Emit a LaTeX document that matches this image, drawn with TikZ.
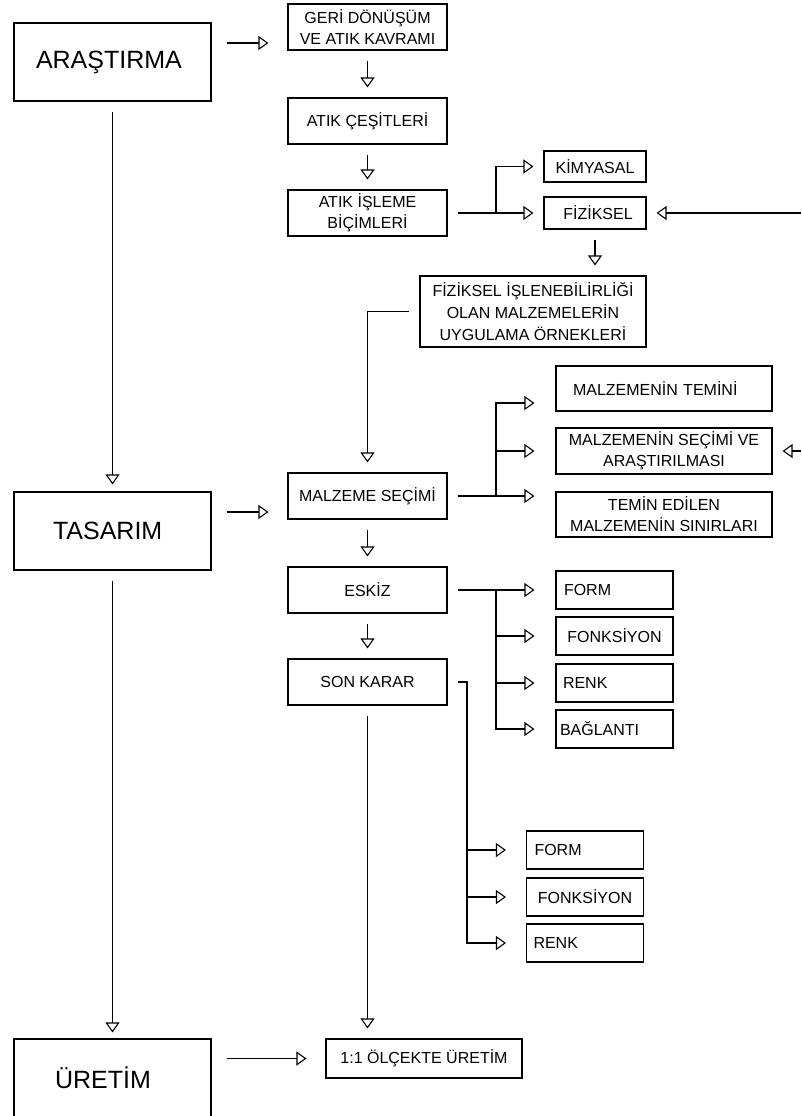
\documentclass[tikz,border=0pt]{standalone}
\usepackage{fontspec}
\setmainfont{Liberation Sans}
\usetikzlibrary{arrows.meta}

\begin{document}
\begin{tikzpicture}[x=1pt, y=-1pt,
        kutu/.style={draw, line width=1.1pt, inner sep=0pt, align=center, font=\fontsize{16}{21}\selectfont},
        ana/.style={kutu, minimum width=197pt, minimum height=78pt, align=left, font=\fontsize{25}{30}\selectfont},
        orta/.style={kutu, minimum width=159pt, minimum height=46pt},
        sag/.style={kutu, minimum width=216pt, minimum height=46pt},
        kucuk/.style={kutu, minimum width=117pt, minimum height=38pt},
        ok/.style={line width=1.1pt, -{Triangle[open, length=10pt, width=14pt]}, shorten >=10pt},
        yan/.style={ok, shorten <=15pt, shorten >=19pt},
        uzun/.style={ok, shorten >=21pt}]

        \useasboundingbox (0,0) rectangle (801,1116);

        \node[ana, inner xsep=22pt, text width=153pt] (arastirma) at (112.5,62) {ARAŞTIRMA};
        \node[ana, inner xsep=39pt, text width=119pt] (tasarim) at (112.5,531) {TASARIM};
        \node[ana, inner xsep=41pt, text width=115pt] (uretim) at (112.5,1078) {ÜRETİM};

        \node[orta] (geri) at (367.5,27) {GERİ DÖNÜŞÜM\\VE ATIK KAVRAMI};
        \node[orta] (cesit) at (367.5,121) {ATIK ÇEŞİTLERİ};
        \node[orta] (isleme) at (367.5,213) {ATIK İŞLEME\\BİÇİMLERİ};
        \node[kutu, minimum width=102pt, minimum height=31pt] (kimyasal) at (595,166.5) {KİMYASAL};
        \node[kutu, minimum width=102pt, minimum height=32pt] (fiziksel) at (595,213) {\hspace{6pt}FİZİKSEL};
        \node[kutu, minimum width=226pt, minimum height=71pt, font=\fontsize{16}{22}\selectfont] (fizisl) at (533,311.5) {FİZİKSEL İŞLENEBİLİRLİĞİ\\OLAN MALZEMELERİN\\UYGULAMA ÖRNEKLERİ};

        \node[orta] (malzeme) at (367.5,496) {MALZEME SEÇİMİ};
        \node[sag, minimum height=45pt, align=left, inner xsep=17pt, text width=182pt] (temini) at (664,388.5) {MALZEMENİN TEMİNİ};
        \node[sag] (secimi) at (664,451) {MALZEMENİN SEÇİMİ VE\\ARAŞTIRILMASI};
        \node[sag, minimum height=45pt] (sinir) at (664,514.5) {TEMİN EDİLEN\\MALZEMENİN SINIRLARI};

        \node[orta] (eskiz) at (367.5,590) {ESKİZ};
        \node[kucuk, align=left, inner xsep=8pt, text width=101pt] (form1) at (614.5,590) {FORM};
        \node[kucuk] (fonk1) at (614.5,636) {FONKSİYON};
        \node[kucuk, align=left, inner xsep=7pt, text width=103pt] (renk1) at (614.5,683) {RENK};
        \node[kucuk, align=left, inner xsep=4pt, text width=109pt] (bag1) at (614.5,729) {BAĞLANTI};

        \node[orta] (sonkarar) at (367.5,682) {SON KARAR};
        \node[kucuk, align=left, inner xsep=8pt, text width=101pt] (form2) at (585,850) {FORM};
        \node[kucuk] (fonk2) at (585,897) {FONKSİYON};
        \node[kucuk, align=left, inner xsep=7pt, text width=103pt] (renk2) at (585,943) {RENK};

        \node[kutu, minimum width=196pt, minimum height=39pt] (olcek) at (424,1058.5) {1:1 ÖLÇEKTE ÜRETİM};

        \coordinate (a1) at ([yshift=19pt]arastirma.east);
        \coordinate (t1) at ([yshift=19pt]tasarim.east);
        \coordinate (d1) at (496,213);
        \coordinate (d2) at (496,496);
        \coordinate (d3) at (496,590);
        \coordinate (d4) at (467,682);
        \coordinate (m1) at ([yshift=-14.5pt]temini.west);
        \coordinate (sag1) at (801,213);
        \coordinate (sag2) at (801,451);

        \draw[ok, shorten <=10pt, shorten >=7pt] (arastirma) -- (tasarim);
        \draw[ok, shorten <=10pt, shorten >=6pt] (tasarim) -- (uretim);
        \draw[yan] (a1) -- (a1 -| geri.west);
        \draw[yan] (t1) -- (t1 -| malzeme.west);
        \draw[yan] (uretim.east |- olcek.west) -- (olcek.west);

        \draw[ok, shorten <=10pt] (geri) -- (cesit);
        \draw[ok, shorten <=10pt] (cesit) -- (isleme);
        \draw[ok, shorten <=10pt] (fiziksel.south) -- (fiziksel.south |- fizisl.north);
        \draw[ok, shorten <=10pt] (fizisl.west) -| (malzeme.north);
        \draw[ok, shorten <=10pt] (malzeme) -- (eskiz);
        \draw[ok, shorten <=10pt] (eskiz) -- (sonkarar);
        \draw[ok, shorten <=10pt] (sonkarar.south) -- (sonkarar.south |- olcek.north);

        \draw[ok, shorten <=10pt] (isleme) -- (fiziksel);
        \draw[ok] (d1) |- (kimyasal.west);
        \draw[ok] (sag1) -- (fiziksel.east);

        \draw[uzun, shorten <=10pt] (malzeme.east) -- (malzeme.east -| sinir.west);
        \draw[uzun] (d2) |- (m1);
        \draw[uzun] (d2) |- (secimi.west);
        \draw[ok] (sag2) -- (secimi.east);

        \draw[uzun, shorten <=10pt] (eskiz) -- (form1);
        \draw[uzun] (d3) |- (fonk1.west);
        \draw[uzun] (d3) |- (renk1.west);
        \draw[uzun] (d3) |- (bag1.west);

        \draw[ok, shorten <=10pt, shorten >=20pt] (sonkarar.east) -- (d4) |- (renk2.west);
        \draw[ok, shorten >=20pt] (d4 |- form2.west) -- (form2.west);
        \draw[ok, shorten >=20pt] (d4 |- fonk2.west) -- (fonk2.west);

\end{tikzpicture}
\end{document}
